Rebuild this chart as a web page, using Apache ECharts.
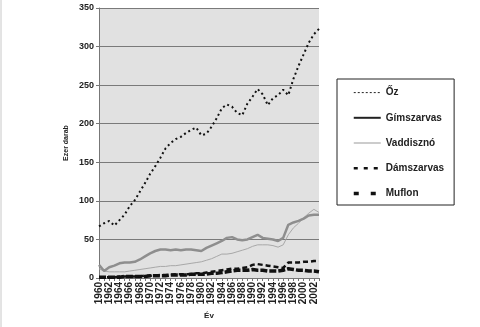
<!DOCTYPE html>
<html>
<head>
<meta charset="utf-8">
<script src="https://cdn.jsdelivr.net/npm/echarts@6/dist/echarts.min.js"></script>
<style>
  html, body { margin: 0; padding: 0; background: #fff; }
  #chart { width: 480px; height: 327px; }
</style>
</head>
<body>
<div id="chart"></div>
<script>
// Hungarian game stock estimates, thousand head, 1960-2003
const years = [];
for (let y = 1960; y <= 2003; y++) years.push(String(y));

const oz = [67, 71, 74, 68, 75, 82, 93, 101, 112, 123, 135, 145, 156, 168, 175, 180, 183, 188, 192, 195,
            185, 187, 196, 207, 220, 225, 222, 214, 211, 226, 235, 245, 238, 224, 233, 237, 244, 237, 258, 275,
            290, 305, 316, 323];
const gimszarvas = [17, 9, 14, 16, 19, 20, 20, 21, 24, 28, 32, 35, 37, 37, 36, 37, 36, 37, 37, 36,
                    35, 39, 42, 45, 48, 52, 53, 50, 49, 50, 53, 56, 52, 51, 50, 48, 52, 69, 72, 74,
                    77, 81, 82, 82];
const vaddiszno = [12, 9, 8, 8, 8, 8, 9, 10, 11, 12, 13, 14, 15, 15, 16, 16, 17, 18, 19, 20,
                   21, 23, 25, 28, 31, 31, 32, 34, 36, 38, 41, 43, 43, 43, 42, 40, 43, 56, 65, 71,
                   78, 84, 89, 85];
const damszarvas = [1, 1, 1, 1, 2, 2, 2, 2, 2, 3, 3, 3, 4, 4, 4, 5, 5, 5, 5, 6,
                    6, 7, 8, 9, 10, 11, 12, 12, 13, 14, 17, 18, 17, 16, 15, 14, 13, 20, 20, 20,
                    21, 21, 22, 22];
const muflon = [1, 1, 1, 1, 1, 2, 2, 2, 2, 2, 3, 3, 3, 3, 4, 4, 4, 4, 5, 5,
                5, 5, 6, 6, 7, 8, 9, 10, 10, 10, 11, 10, 10, 9, 9, 9, 10, 12, 11, 10,
                10, 9, 9, 8];

const yTicks = [0, 50, 100, 150, 200, 250, 300, 350];

const font = 'Liberation Sans Narrow, Liberation Sans, Arial, sans-serif';

const chart = echarts.init(document.getElementById('chart'), null, { renderer: 'canvas' });

const styles = {
  'Őz':         { color: '#111', width: 2,   type: [2, 3] },
  'Gímszarvas': { color: '#8e8e8e', width: 2.5, type: 'solid' },
  'Vaddisznó':  { color: '#a8a8a8', width: 1,   type: 'solid' },
  'Dámszarvas': { color: '#111', width: 2.5, type: [5, 3] },
  'Muflon':     { color: '#111', width: 3.5, type: [7, 2] }
};
const legendStyles = {
  'Őz':         { color: '#222', width: 1,   type: [2, 2] },
  'Gímszarvas': { color: '#222', width: 2,   type: 'solid' },
  'Vaddisznó':  { color: '#999', width: 1,   type: 'solid' },
  'Dámszarvas': { color: '#111', width: 2.5, type: [4, 6] },
  'Muflon':     { color: '#111', width: 3.5, type: [5, 12] }
};
const seriesData = [
  ['Muflon', muflon],
  ['Dámszarvas', damszarvas],
  ['Vaddisznó', vaddiszno],
  ['Gímszarvas', gimszarvas],
  ['Őz', oz]
];
const legendOrder = ['Őz', 'Gímszarvas', 'Vaddisznó', 'Dámszarvas', 'Muflon'];

chart.setOption({
  animation: false,
  backgroundColor: '#fff',
  grid: { left: 99, right: 161, top: 8, bottom: 49 },
  xAxis: {
    type: 'category',
    data: years,
    boundaryGap: false,
    name: 'Év',
    nameLocation: 'middle',
    nameGap: 32,
    nameTextStyle: { fontFamily: font, fontSize: 8, color: '#222', fontWeight: 'bold' },
    axisLine: { lineStyle: { color: '#777', width: 1 } },
    axisTick: { show: true, interval: 0, length: 3, lineStyle: { color: '#777' } },
    axisLabel: {
      interval: 1, rotate: 90, fontFamily: font, fontSize: 10, fontWeight: 'bold',
      color: '#222', margin: 4
    },
    splitLine: { show: false }
  },
  yAxis: {
    type: 'value',
    min: yTicks[0],
    max: yTicks[yTicks.length - 1],
    interval: 50,
    name: 'Ezer darab',
    nameLocation: 'middle',
    nameGap: 29,
    nameTextStyle: { fontFamily: font, fontSize: 7, color: '#222', fontWeight: 'bold' },
    axisLine: { show: true, lineStyle: { color: '#777', width: 1 } },
    axisTick: { show: true, length: 3, lineStyle: { color: '#777' } },
    axisLabel: { fontFamily: font, fontSize: 9, fontWeight: 'bold', color: '#222', margin: 5 },
    splitLine: { show: true, lineStyle: { color: '#7a7a7a', width: 1 } },
    splitArea: { show: true, areaStyle: { color: ['#e1e1e1'] } }
  },
  legend: {
    orient: 'vertical',
    left: 337,
    top: 79,
    padding: [8, 10, 6, 15],
    itemWidth: 27,
    itemHeight: 14,
    itemGap: 14,
    borderColor: '#222',
    borderWidth: 1,
    textStyle: { fontFamily: font, fontSize: 10, fontWeight: 'bold', color: '#222' },
    data: legendOrder.map(n => ({
      name: n,
      itemStyle: { opacity: 0 },
      lineStyle: legendStyles[n]
    }))
  },
  series: seriesData.map(([name, data]) => ({
    name: name,
    type: 'line',
    data: data,
    symbol: 'none',
    smooth: false,
    itemStyle: { color: styles[name].color },
    lineStyle: styles[name]
  })),
  graphic: [
    { type: 'line', shape: { x1: 1, y1: 0, x2: 1, y2: 327 }, style: { stroke: '#c8c8c8', lineWidth: 1 } }
  ]
});
</script>
</body>
</html>
